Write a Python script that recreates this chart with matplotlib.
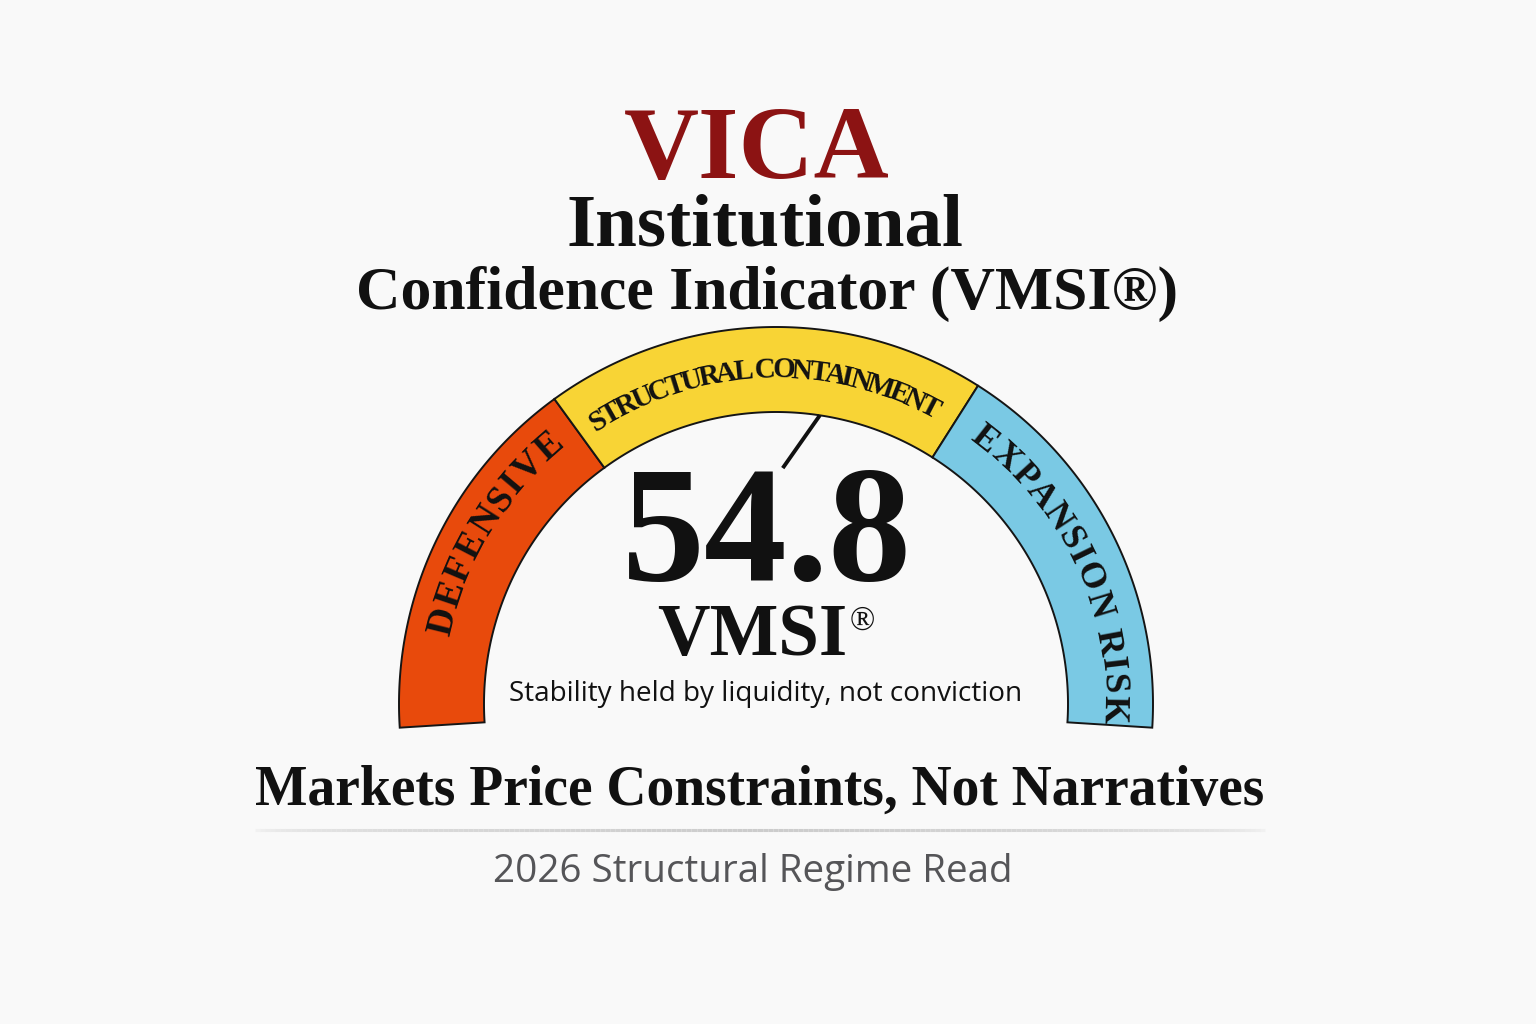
import numpy as np
import matplotlib
matplotlib.use("Agg")
import matplotlib.pyplot as plt
from matplotlib.patches import Polygon
from matplotlib.collections import LineCollection
from matplotlib.font_manager import FontProperties
from matplotlib.textpath import TextToPath

# ---- data -----------------------------------------------------------------
score = 54.8
score_label = "54.8"
index_name = "VMSI"
zone_labels = ["DEFENSIVE", "STRUCTURAL CONTAINMENT", "EXPANSION RISK"]
zone_edges = [-2, 30, 68, 102]          # gauge scale 0-100, small overhang at both ends
zone_colors = ["#E84A0C", "#F8D435", "#7AC9E4"]

title = "VICA"
subtitle = ["Institutional", "Confidence Indicator (VMSI®)"]
caption = "Stability held by liquidity, not conviction"
headline = "Markets Price Constraints, Not Narratives"
footer = "2026 Structural Regime Read"

# ---- layout (pixel space, y measured from bottom) -----------------------------
W, H = 1536, 1024
BG = "#F9F9F9"
SERIF = ["Liberation Serif", "DejaVu Serif"]
SANS = ["Open Sans", "DejaVu Sans"]
CX, CY = 776, H - 704
R_OUT, R_IN = 377, 292


def val2deg(v):
    return 180.0 - v * 1.8


fig = plt.figure(figsize=(W / 100, H / 100), dpi=100, facecolor=BG)
ax = fig.add_axes([0, 0, 1, 1])
ax.set_xlim(0, W)
ax.set_ylim(0, H)
ax.axis("off")
ax.set_facecolor(BG)
renderer = fig.canvas.get_renderer()


def fit(t, width_px):
    bb = t.get_window_extent(renderer=renderer)
    t.set_fontsize(t.get_fontsize() * width_px / bb.width)
    return t


# gauge bands
for lo, hi, col in zip(zone_edges[:-1], zone_edges[1:], zone_colors):
    th = np.radians(np.linspace(val2deg(lo), val2deg(hi), 120))
    outer = np.column_stack([CX + R_OUT * np.cos(th), CY + R_OUT * np.sin(th)])
    inner = np.column_stack([CX + R_IN * np.cos(th[::-1]), CY + R_IN * np.sin(th[::-1])])
    ax.add_patch(Polygon(np.vstack([outer, inner]), closed=True, facecolor=col,
                         edgecolor="#151515", linewidth=1.4, joinstyle="miter", zorder=2))

# curved zone labels
t2p = TextToPath()


def arc_text(s, r, mid_deg, span_deg, size):
    fp = FontProperties(family=SERIF, weight="bold", size=size)

    def w(x):
        return t2p.get_text_width_height_descent(x, fp, ismath=False)[0] * 100 / 72 if x else 0.0

    centers = np.array([(w(s[:i]) + w(s[:i + 1])) / 2 for i in range(len(s))])
    natural = centers[-1] - centers[0]
    k = np.radians(span_deg) * r / natural
    offs = (centers - (centers[0] + centers[-1]) / 2) * k
    for ch, o in zip(s, offs):
        if ch == " ":
            continue
        a = mid_deg - np.degrees(o / r)
        ax.text(CX + r * np.cos(np.radians(a)), CY + r * np.sin(np.radians(a)), ch,
                rotation=a - 90, rotation_mode="anchor", ha="center", va="center",
                fontproperties=fp, color="#111111", zorder=3)


arc_text(zone_labels[0], 343, 148.7, 34.9, 27)
arc_text(zone_labels[1], 334, 92.3, 59.5, 21)
arc_text(zone_labels[2], 337, 25.4, 52.7, 26)

# needle
a_tip = np.radians(val2deg(score))
a_tail = a_tip + np.radians(7)
ax.plot([CX + R_IN * np.cos(a_tip), CX + 236 * np.cos(a_tail)],
        [CY + R_IN * np.sin(a_tip), CY + 236 * np.sin(a_tail)],
        color="#111111", lw=2.8, solid_capstyle="butt", zorder=3)

# titles
t = ax.text(757, H - 178, title, ha="center", va="baseline", family=SERIF,
            weight="bold", color="#8C1313", fontsize=80)
fit(t, 266)
t = ax.text(765, H - 245, subtitle[0], ha="center", va="baseline", family=SERIF,
            weight="bold", color="#111111", fontsize=52)
fit(t, 396)
t = ax.text(767, H - 309, subtitle[1], ha="center", va="baseline", family=SERIF,
            weight="bold", color="#111111", fontsize=46)
fit(t, 821)

# centre readout
t = ax.text(752, H - 655, index_name, ha="center", va="baseline", family=SERIF,
            weight="bold", color="#111111", fontsize=56)
fit(t, 190)
ax.text(850, H - 630, "®", ha="left", va="baseline", family=SERIF,
        color="#111111", fontsize=24)
t = ax.text(767, H - 580, score_label, ha="center", va="baseline", family=SERIF,
            weight="bold", color="#111111", fontsize=115)
fit(t, 290)
t = ax.text(766, H - 701, caption, ha="center", va="baseline", family=SANS,
            color="#111111", fontsize=20)
fit(t, 512)

# bottom headline, rule and footer
t = ax.text(760, H - 805, headline, ha="center", va="baseline", family=SERIF,
            weight="bold", color="#111111", fontsize=37)
fit(t, 1010)

xs = np.linspace(255, 1265, 200)
segs = [[(x0, H - 830), (x1, H - 830)] for x0, x1 in zip(xs[:-1], xs[1:])]
mid = (xs[:-1] + xs[1:]) / 2
alpha = np.clip(1 - np.abs(mid - 760) / 505, 0, 1) ** 0.35
cols = [(0.80, 0.80, 0.80, a) for a in alpha]
ax.add_collection(LineCollection(segs, colors=cols, linewidths=2.2, zorder=1))

t = ax.text(753, H - 882, footer, ha="center", va="baseline", family=SANS,
            color="#555558", fontsize=27)
fit(t, 520)

fig.savefig("out.png", dpi=100, facecolor=BG)
